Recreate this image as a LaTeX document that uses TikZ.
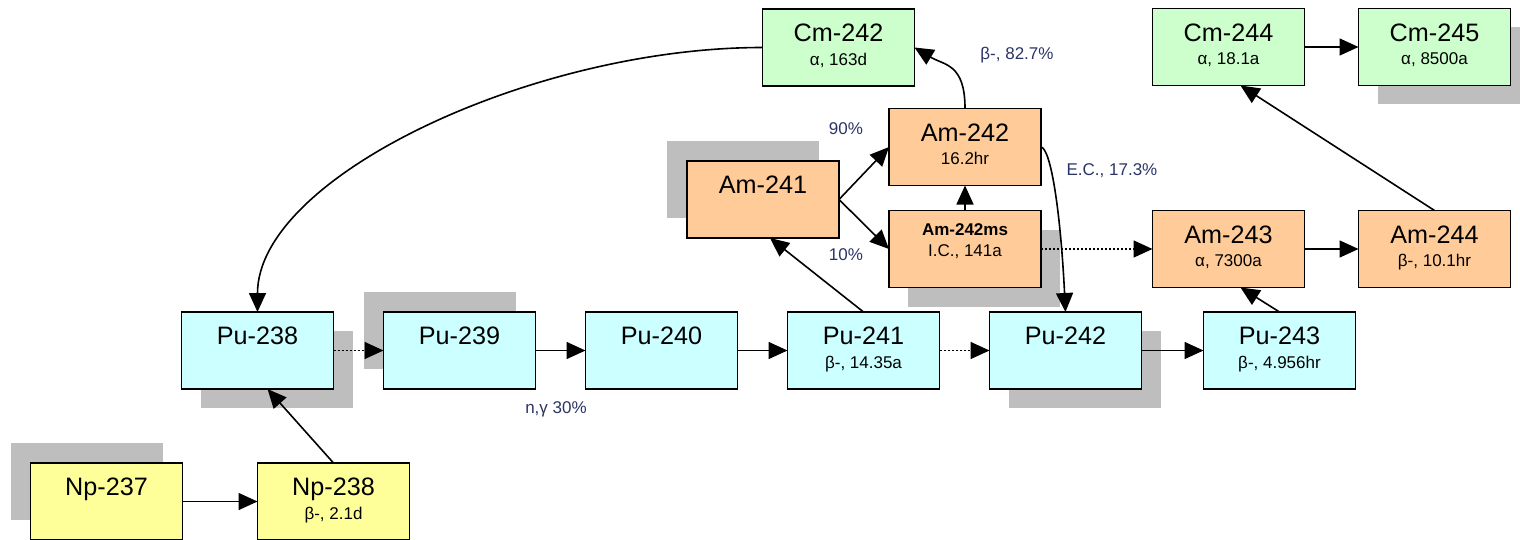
\documentclass[tikz,border=0pt]{standalone}
\usepackage{fontspec}
\setmainfont{Liberation Sans}
\usetikzlibrary{arrows.meta, positioning, shadows}
\definecolor{puc}{HTML}{CCFFFF}
\definecolor{amc}{HTML}{FFCC99}
\definecolor{cmc}{HTML}{CCFFCC}
\definecolor{npc}{HTML}{FFFF99}
\definecolor{shc}{HTML}{BEBEBE}
\definecolor{lblc}{HTML}{2A3466}
\newcommand\iso[2]{{\fontsize{12.6}{11.6}\selectfont #1}\\#2}

\begin{document}
\begin{tikzpicture}[x=0.5pt, y=-0.5pt,
        n/.style={draw, line width=0.9pt, minimum width=76pt, minimum height=38.5pt, inner sep=0pt, outer sep=0pt,
            align=center, font=\fontsize{8.5}{11.6}\selectfont, text height=20.5pt, text depth=2.9pt},
        npu/.style={n, fill=puc}, nam/.style={n, fill=amc}, ncm/.style={n, fill=cmc}, nnp/.style={n, fill=npc},
        shr/.style={drop shadow={shadow xshift=9.5pt, shadow yshift=-9.5pt, opacity=1, fill=shc}},
        shl/.style={drop shadow={shadow xshift=-10pt, shadow yshift=10pt, opacity=1, fill=shc}},
        e/.style={-{Triangle[length=9.5pt, width=8.5pt]}, line width=0.8pt},
        ed/.style={e, dash pattern=on 1pt off 1pt},
        lbl/.style={font=\fontsize{8.5}{10}\selectfont, text=lblc, inner sep=0pt}]
        \useasboundingbox (0,0) rectangle (1520,540);

        \node[npu, shr] (pu238) at (257.5,350.5) {\iso{Pu-238}{}};
        \node[npu, shl, right=25pt of pu238] (pu239) {\iso{Pu-239}{}};
        \node[npu, right=25pt of pu239] (pu240) {\iso{Pu-240}{}};
        \node[npu, right=25pt of pu240] (pu241) {\iso{Pu-241}{β-, 14.35a}};
        \node[npu, shr, right=25pt of pu241] (pu242) {\iso{Pu-242}{}};
        \node[npu, right=31pt of pu242] (pu243) {\iso{Pu-243}{β-, 4.956hr}};

        \node[nnp, shl] (np237) at (106.5,501.5) {\iso{Np-237}{}};
        \node[nnp, right=37.5pt of np237] (np238) {\iso{Np-238}{β-, 2.1d}};

        \node[nam, shl] (am241) at (763,199.5) {\iso{Am-241}{}};
        \node[nam, shr, font=\fontsize{8.5}{10.5}\selectfont, text height=16.6pt, text depth=9pt] (am242ms) at (965,249)
            {\textbf{Am-242ms}\\I.C., 141a};
        \node[nam, above=12.5pt of am242ms] (am242) {\iso{Am-242}{16.2hr}};
        \node[nam] (am243) at (1228.5,249) {\iso{Am-243}{α, 7300a}};
        \node[nam, right=27pt of am243] (am244) {\iso{Am-244}{β-, 10.1hr}};

        \node[ncm] (cm242) at (838.5,47.5) {\iso{Cm-242}{α, 163d}};
        \node[ncm, above=62.5pt of am243] (cm244) {\iso{Cm-244}{α, 18.1a}};
        \node[ncm, shr, right=27pt of cm244] (cm245) {\iso{Cm-245}{α, 8500a}};

        \draw[e] (np237) -- (np238);
        \draw[e] (np238.north) -- ([xshift=5pt]pu238.south);
        \draw[e] (cm242.west) .. controls +(-230,0) and +(0,-135) .. (pu238.north);
        \draw[ed] (pu238) -- (pu239);
        \draw[e] (pu239) -- (pu240);
        \draw[e] (pu240) -- (pu241);
        \draw[ed] (pu241) -- (pu242);
        \draw[e] (pu242) -- (pu243);
        \draw[e] (pu241.north) -- ([xshift=3.5pt]am241.south);
        \draw[e] (am241.east) -- (am242.west);
        \draw[e] (am241.east) -- (am242ms.west);
        \draw[e] (am242ms) -- (am242);
        \draw[e] (am242.north) .. controls +(0,-45) and +(30,18) .. (cm242.east);
        \draw[e] (am242.east) .. controls +(10,2) and +(-5,-100) .. (pu242.north);
        \draw[ed] (am242ms) -- (am243);
        \draw[e] (am243) -- (am244);
        \draw[e] (pu243.north) -- ([xshift=6pt]am243.south);
        \draw[e] (am244.north) -- ([xshift=6pt]cm244.south);
        \draw[e] (cm244) -- (cm245);

        \node[lbl] (lb1) at (1017,55) {β-, 82.7\%};
        \node[lbl] (lb2) at (846,129) {90\%};
        \node[lbl] (lb3) at (846,255) {10\%};
        \node[lbl] (lb4) at (1112,171) {E.C., 17.3\%};
        \node[lbl] (lb5) at (556,409) {n,γ 30\%};
      \end{tikzpicture}
\end{document}
